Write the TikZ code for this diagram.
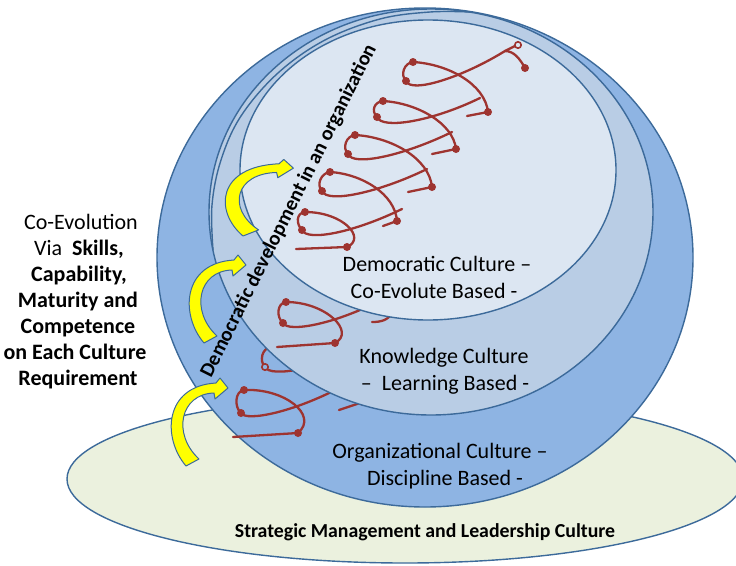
\documentclass[tikz,border=0pt]{standalone}
\usepackage{fontspec}
\setmainfont{Carlito}
\definecolor{cA}{HTML}{8EB4E3}
\definecolor{cB}{HTML}{B9CDE5}
\definecolor{cC}{HTML}{DCE6F2}
\definecolor{cG}{HTML}{EBF1DE}
\definecolor{edgec}{HTML}{3C6A9A}
\definecolor{coilc}{HTML}{9E3430}
\definecolor{yel}{HTML}{FFFF00}
\tikzset{
  layer/.style={draw=edgec,line width=1.4pt},
  coil/.style={draw=coilc,line width=2.3pt,line cap=round},
  cdot/.style={fill=coilc},
  odot/.style={draw=coilc,line width=1.6pt},
  lbl/.style={font=\fontsize{22}{26}\selectfont,text=black,inner sep=0pt,anchor=base},
  side/.style={font=\fontsize{22}{26}\selectfont,text=black,inner sep=0pt,anchor=base},
  yarrow/.pic={
    \path[draw=edgec,line width=1pt,fill=yel,line join=round]
      (0,0) .. controls (-24,-28) and (-22,-80) .. (30,-83)
      -- (34,-88) -- (42,-78) -- (29,-67) -- (28,-73)
      .. controls (-6,-72) and (-14,-32) .. (13,-7) -- cycle;
  }
}
\begin{document}
\begin{tikzpicture}[x=1pt,y=-1pt]
\useasboundingbox (0,0) rectangle (736,565);
\clip (0,0) rectangle (736,565);
% base ellipse
\path[layer,fill=cG] (405,479) ellipse [x radius=338pt, y radius=84pt];
% outer layer
\path[layer,fill=cA] (425,257.5) ellipse [x radius=268pt, y radius=249.5pt];
% coil pieces on the outer layer
\begin{scope}[shift={(244,390)}]
  \draw[coil] (0,0) .. controls (-9,1) and (-10,17) .. (-3,23);
  \draw[coil] (0,0) .. controls (40,-2) and (75,25) .. (54,43);
  \draw[coil] (54,43) -- (-11,47);
  \draw[coil] (-3,23) .. controls (2,32) and (50,22) .. (97,-3);
  \fill[cdot] (0,0) circle (4pt) (-3,23) circle (4pt) (54,43) circle (4pt);
\end{scope}
\begin{scope}[shift={(271,347)}]
  \draw[coil] (0,0) .. controls (-9,1) and (-12,14) .. (-6,20);
  \draw[coil] (0,0) .. controls (45,0) and (95,25) .. (92,55);
  \draw[coil] (92,55) -- (68,63);
  \draw[coil] (-6,20) .. controls (-1,31) and (50,22) .. (97,-3);
  \fill[cdot] (0,0) circle (4pt) (92,55) circle (4pt);
  \filldraw[odot,fill=cA] (-6,20) circle (3.2pt);
\end{scope}
% second layer
\path[layer,fill=cB] (431,212) ellipse [x radius=222pt, y radius=203pt];
\draw[layer] plot[smooth,tension=0.6] coordinates {(213,250) (212,205) (221,160) (241,116) (278,73) (325,40) (380,19) (430,12) (470,12)};
% coil pieces on the second layer
\draw[coil] (372,322) .. controls (382,322) and (388,320) .. (393,312);
\begin{scope}[shift={(286,302)}]
  \draw[coil] (0,0) .. controls (-9,1) and (-10,15) .. (-3,21);
  \draw[coil] (0,0) .. controls (40,0) and (70,30) .. (49,41);
  \draw[coil] (49,41) -- (-9,45);
  \draw[coil] (-3,21) .. controls (2,31) and (50,22) .. (97,-3);
  \fill[cdot] (0,0) circle (4pt) (-3,21) circle (4pt) (49,41) circle (4pt);
\end{scope}
% inner layer
\path[layer,fill=cC] (428,170) ellipse [x radius=188pt, y radius=150pt];
% coil on the inner layer
\begin{scope}[shift={(305,212)}]
  \draw[coil] (0,0) .. controls (-9,1) and (-9,12) .. (-3,18);
  \draw[coil] (0,0) .. controls (38,0) and (62,26) .. (42,35);
  \draw[coil] (42,35) -- (-9,37);
  \draw[coil] (-3,18) .. controls (2,30) and (50,20) .. (97,-3);
  \fill[cdot] (0,0) circle (4pt) (-3,18) circle (4pt) (42,35) circle (4pt);
\end{scope}
\begin{scope}[shift={(330,172)}]
  \draw[coil] (0,0) .. controls (-9,1) and (-14,13) .. (-8,19);
  \draw[coil] (0,0) .. controls (32,2) and (65,22) .. (67,49);
  \draw[coil] (67,49) -- (53,54);
  \draw[coil] (-8,19) .. controls (-3,32) and (50,20) .. (97,-3);
  \fill[cdot] (0,0) circle (4pt) (-8,19) circle (4pt) (67,49) circle (4pt);
\end{scope}
\begin{scope}[shift={(355,135)}]
  \draw[coil] (0,0) .. controls (-9,1) and (-13,13) .. (-7,19);
  \draw[coil] (0,0) .. controls (36,2) and (74,23) .. (77,52);
  \draw[coil] (77,52) -- (53,57);
  \draw[coil] (-7,19) .. controls (-2,32) and (50,20) .. (97,-3);
  \fill[cdot] (0,0) circle (4pt) (-7,19) circle (4pt) (77,52) circle (4pt);
\end{scope}
\begin{scope}[shift={(383,101)}]
  \draw[coil] (0,0) .. controls (-9,1) and (-12,10) .. (-6,16);
  \draw[coil] (0,0) .. controls (34,2) and (70,22) .. (73,48);
  \draw[coil] (73,48) -- (49,53);
  \draw[coil] (-6,16) .. controls (-1,29) and (50,20) .. (97,-3);
  \fill[cdot] (0,0) circle (4pt) (-6,16) circle (4pt) (73,48) circle (4pt);
\end{scope}
\begin{scope}[shift={(413,62)}]
  \draw[coil] (0,0) .. controls (-9,1) and (-13,13) .. (-7,19);
  \draw[coil] (0,0) .. controls (35,2) and (72,22) .. (75,50);
  \draw[coil] (75,50) -- (54,54);
  \draw[coil] (-7,19) .. controls (-2,32) and (50,15) .. (92,-11);
  \draw[coil] (92,-11) -- (102,-16);
  \draw[coil] (92,-11) .. controls (101,-11) and (107,-3) .. (112,6);
  \fill[cdot] (0,0) circle (4pt) (-7,19) circle (4pt) (75,50) circle (4pt) (112,6) circle (4pt);
  \filldraw[odot,fill=cC] (105,-17) circle (3.2pt);
\end{scope}
% yellow arrows
\pic at (186,466) {yarrow};
\pic at (204,343) {yarrow};
\pic[xscale=1.2,yscale=0.87] at (243,236) {yarrow};
% labels
\node[lbl] (dc1) at (437,271.5) {Democratic Culture –};
\node[lbl] (dc2) at (434,298) {Co-Evolute Based -};
\node[lbl] (kc1) at (444,363.5) {Knowledge Culture};
\node[lbl] (kc2) at (445,390) {–\ \ Learning Based -};
\node[lbl] (oc1) at (440,458.5) {Organizational Culture –};
\node[lbl] (oc2) at (445,485) {Discipline Based -};
\node[font=\fontsize{19.8}{23}\selectfont\bfseries,text=black,inner sep=0pt,anchor=base] (smc) at (425,537) {Strategic Management and Leadership Culture};
\node[font=\fontsize{20.4}{24}\selectfont\bfseries,text=black,rotate=63.4,inner sep=0pt] (dev) at (289,211) {Democratic development in an organization};
% side text
\node[side] (s1) at (81,229) {Co-Evolution};
\node[side] (s2) at (79,255) {Via\ \ \textbf{Skills,}};
\node[side] (s3) at (79,281) {\textbf{Capability,}};
\node[side] (s4) at (78,307) {\textbf{Maturity and}};
\node[side] (s5) at (78,333) {\textbf{Competence}};
\node[side] (s6) at (75,359) {\textbf{on Each Culture}};
\node[side] (s7) at (78,385) {\textbf{Requirement}};
\end{tikzpicture}
\end{document}
